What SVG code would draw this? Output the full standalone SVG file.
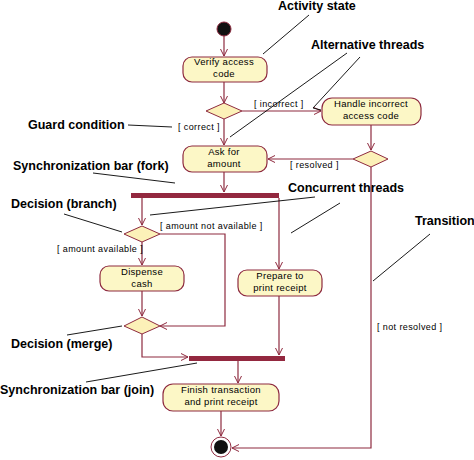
<svg xmlns="http://www.w3.org/2000/svg" width="474" height="460" viewBox="0 0 474 460">
<style>
.node{fill:#fcf7c6;stroke:#8e2a3f;stroke-width:1.2}
.dia{fill:#fcf1b8;stroke:#8e2a3f;stroke-width:1}
.bar{fill:#93283f}
.c{fill:none;stroke:#8e2a3f;stroke-width:1.2}
.pt{fill:none;stroke:#000;stroke-width:0.9}
.t{font-family:"Liberation Sans",Arial,sans-serif;font-size:9.5px;fill:#000;text-anchor:middle;letter-spacing:0.3px}
.g{font-family:"Liberation Sans",Arial,sans-serif;font-size:9px;fill:#000;letter-spacing:0.4px}
.a{font-family:"Liberation Sans",Arial,sans-serif;font-size:12.5px;font-weight:bold;fill:#000}
</style>
<defs>
<marker id="arr" markerUnits="userSpaceOnUse" markerWidth="10" markerHeight="10" refX="7" refY="4" orient="auto">
<path d="M0,0.5 L7,4 L0,7.5" fill="none" stroke="#8e2a3f" stroke-width="1"/>
</marker>
</defs>
<rect width="474" height="460" fill="#fff"/>

<g id="connectors">
<line class="c" x1="224" y1="36" x2="224" y2="56" marker-end="url(#arr)"/>
<line class="c" x1="224" y1="82" x2="224" y2="103" marker-end="url(#arr)"/>
<line class="c" x1="242" y1="111" x2="321" y2="111" marker-end="url(#arr)"/>
<line class="c" x1="224" y1="119" x2="224" y2="145" marker-end="url(#arr)"/>
<line class="c" x1="371" y1="125" x2="371" y2="150" marker-end="url(#arr)"/>
<line class="c" x1="353" y1="159" x2="268" y2="159" marker-end="url(#arr)"/>
<polyline class="c" points="371,167 371,448 232,448" marker-end="url(#arr)"/>
<line class="c" x1="224" y1="172" x2="224" y2="192" marker-end="url(#arr)"/>
<line class="c" x1="142" y1="198" x2="142" y2="225" marker-end="url(#arr)"/>
<line class="c" x1="279" y1="198" x2="279" y2="269" marker-end="url(#arr)"/>
<polyline class="c" points="160,234 225,234 225,326 160,326" marker-end="url(#arr)"/>
<line class="c" x1="142" y1="242" x2="142" y2="265" marker-end="url(#arr)"/>
<line class="c" x1="142" y1="291" x2="142" y2="316" marker-end="url(#arr)"/>
<polyline class="c" points="142,334 142,357 188,357" marker-end="url(#arr)"/>
<line class="c" x1="279" y1="296" x2="279" y2="355" marker-end="url(#arr)"/>
<line class="c" x1="238" y1="361" x2="238" y2="383" marker-end="url(#arr)"/>
<line class="c" x1="221" y1="411" x2="221" y2="436" marker-end="url(#arr)"/>
</g>

<g id="start"><circle cx="224" cy="29" r="7" fill="#111" stroke="#8e2a3f" stroke-width="1"/></g>

<g id="verify">
<rect class="node" x="183" y="57" width="84" height="25" rx="9"/>
<text class="t" x="224" y="65">Verify access</text>
<text class="t" x="224" y="77">code</text>
</g>
<g id="decision1"><polygon class="dia" points="206,111 224,103 242,111 224,119"/></g>
<g id="handle">
<rect class="node" x="322" y="98" width="99" height="27" rx="10"/>
<text class="t" x="371" y="107">Handle incorrect</text>
<text class="t" x="371" y="119">access code</text>
</g>
<g id="decision2"><polygon class="dia" points="353,159 371,151 388,159 371,167"/></g>
<g id="ask">
<rect class="node" x="183" y="146" width="84" height="26" rx="9"/>
<text class="t" x="224" y="155">Ask for</text>
<text class="t" x="224" y="167">amount</text>
</g>
<g id="fork"><rect class="bar" x="131" y="193" width="148" height="5"/></g>
<g id="branch"><polygon class="dia" points="124,234 142,226 160,234 142,242"/></g>
<g id="dispense">
<rect class="node" x="100" y="266" width="84" height="25" rx="9"/>
<text class="t" x="142" y="275">Dispense</text>
<text class="t" x="142" y="287">cash</text>
</g>
<g id="prepare">
<rect class="node" x="238" y="270" width="84" height="26" rx="9"/>
<text class="t" x="280" y="279">Prepare to</text>
<text class="t" x="280" y="291">print receipt</text>
</g>
<g id="merge"><polygon class="dia" points="124,326 142,317 160,326 142,334"/></g>
<g id="join"><rect class="bar" x="189" y="356" width="96" height="5"/></g>
<g id="finish">
<rect class="node" x="163" y="384" width="116" height="27" rx="10"/>
<text class="t" x="221" y="393">Finish transaction</text>
<text class="t" x="221" y="405">and print receipt</text>
</g>
<g id="end">
<circle cx="221" cy="447" r="10" fill="#fff" stroke="#8e2a3f" stroke-width="1"/>
<circle cx="221" cy="447" r="7" fill="#111"/>
</g>

<g id="guards">
<text class="g" x="254" y="107">[ incorrect ]</text>
<text class="g" x="178" y="130">[ correct ]</text>
<text class="g" x="290" y="168">[ resolved ]</text>
<text class="g" x="160" y="229">[ amount not available ]</text>
<text class="g" x="57" y="252">[ amount available ]</text>
<text class="g" x="377" y="330">[ not resolved ]</text>
</g>

<g id="annotations">
<text class="a" x="278" y="10">Activity state</text>
<line class="pt" x1="309" y1="15" x2="263" y2="54"/>
<text class="a" x="311" y="49">Alternative threads</text>
<line class="pt" x1="347" y1="53" x2="230" y2="137"/>
<polyline class="pt" points="360,57 313,108 321,110"/>
<text class="a" x="28" y="129">Guard condition</text>
<line class="pt" x1="128" y1="125" x2="172" y2="127"/>
<text class="a" x="13" y="170">Synchronization bar (fork)</text>
<line class="pt" x1="93" y1="173" x2="175" y2="183"/>
<text class="a" x="288" y="192">Concurrent threads</text>
<line class="pt" x1="315" y1="197" x2="150" y2="215"/>
<line class="pt" x1="340" y1="203" x2="291" y2="233"/>
<text class="a" x="11" y="208">Decision (branch)</text>
<line class="pt" x1="64" y1="214" x2="122" y2="232"/>
<text class="a" x="415" y="225">Transition</text>
<line class="pt" x1="430" y1="234" x2="373" y2="281"/>
<text class="a" x="11" y="348">Decision (merge)</text>
<line class="pt" x1="67" y1="335" x2="122" y2="326"/>
<text class="a" x="0" y="394">Synchronization bar (join)</text>
<line class="pt" x1="86" y1="382" x2="197" y2="363"/>
</g>
</svg>
